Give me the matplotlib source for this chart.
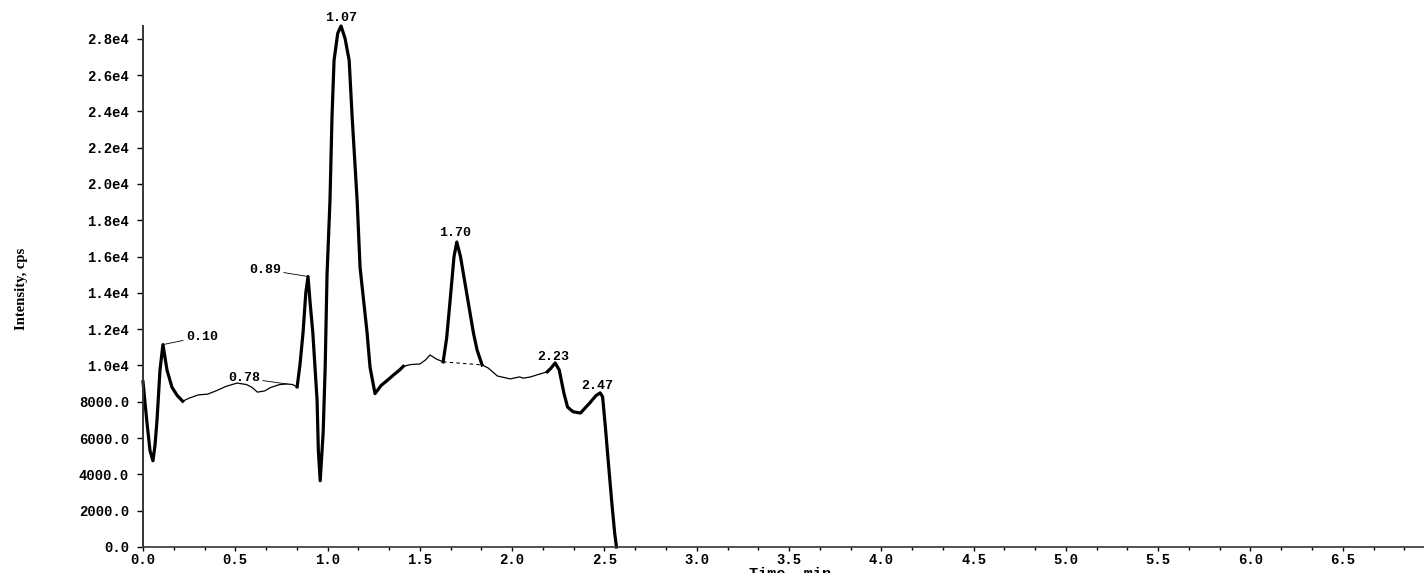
import numpy as np
import matplotlib
matplotlib.use("Agg")
import matplotlib.pyplot as plt
from matplotlib.ticker import AutoMinorLocator

# chromatogram trace (time in min, intensity in cps)
times = [0.000, 0.020, 0.038, 0.054, 0.065, 0.076, 0.092, 0.108, 0.130, 0.157, 0.185, 0.215,
         0.25, 0.30, 0.35, 0.40, 0.45, 0.51, 0.56, 0.59, 0.62, 0.66, 0.69, 0.74, 0.78, 0.81,
         0.835, 0.85, 0.867, 0.882, 0.894, 0.905, 0.92, 0.943, 0.95, 0.96,
         0.976, 0.987, 0.997, 1.013, 1.024, 1.035, 1.055, 1.073, 1.095, 1.117, 1.133, 1.16,
         1.176, 1.214, 1.23, 1.257,
         1.29, 1.32, 1.36, 1.39, 1.41, 1.45, 1.50, 1.53, 1.555, 1.59, 1.626,
         1.645, 1.664, 1.685, 1.70, 1.72, 1.76, 1.79, 1.81, 1.837,
         1.87, 1.92, 1.99, 2.04, 2.06, 2.10, 2.14, 2.17, 2.19,
         2.21, 2.233, 2.255, 2.28, 2.30, 2.33, 2.37, 2.42, 2.455, 2.477, 2.49, 2.505,
         2.52, 2.54, 2.555, 2.565]
intensity = [9100, 7000, 5300, 4750, 5600, 7000, 9750, 11150, 9750, 8800, 8350, 8030,
             8200, 8380, 8420, 8620, 8850, 9030, 8950, 8800, 8530, 8600, 8780, 8950, 8980, 8950,
             8820, 10000, 11800, 14000, 14900, 13500, 11800, 8100, 5300, 3650,
             6300, 9900, 15000, 19100, 23700, 26800, 28300, 28700, 28000, 26800, 23700, 19100,
             15400, 11800, 9900, 8450,
             8900, 9150, 9500, 9750, 9950, 10050, 10080, 10300, 10580, 10350, 10200,
             11500, 13600, 16000, 16800, 16000, 13600, 11800, 10850, 10030,
             9860, 9420, 9260, 9370, 9300, 9370, 9500, 9590, 9650,
             9850, 10140, 9750, 8490, 7710, 7450, 7380, 7930, 8350, 8490, 8270, 6610,
             4790, 2420, 800, 0]

# integrated peaks (drawn bold) and the drawn baseline under 1.70
bold_ranges = [(0.0, 0.215), (0.835, 1.41), (1.626, 1.837), (2.19, 2.565)]
baseline_range = (1.626, 1.837)

peak_times = [0.108, 0.78, 0.894, 1.073, 1.70, 2.233, 2.477]
peak_labels = ["0.10", "0.78", "0.89", "1.07", "1.70", "2.23", "2.47"]
# label offsets in pixels (dx, dy) and whether a leader line is drawn
peak_offsets = [(39, 8), (-43, 6), (-43, 7), (0, 8), (-2, 9), (-2, 6), (-3, 7)]
peak_leaders = [True, True, True, False, False, False, False]

ytick_values = list(range(0, 28001, 2000))
ytick_labels = ["0.0", "2000.0", "4000.0", "6000.0", "8000.0", "1.0e4", "1.2e4", "1.4e4",
                "1.6e4", "1.8e4", "2.0e4", "2.2e4", "2.4e4", "2.6e4", "2.8e4"]
xtick_values = [0.0, 0.5, 1.0, 1.5, 2.0, 2.5, 3.0, 3.5, 4.0, 4.5, 5.0, 5.5, 6.0, 6.5]
xtick_labels = ["%.1f" % v for v in xtick_values]

mono = "Liberation Mono"

fig = plt.figure(figsize=(14.24, 5.73), dpi=100)
ax = fig.add_axes([143 / 1424, 26 / 573, 1281 / 1424, 521 / 573])

t = np.array(times)
y = np.array(intensity)

# thin trace everywhere, bold on the integrated peaks
ax.plot(t, y, color="black", lw=0.9, clip_on=False)
for a, b in bold_ranges:
    m = (t >= a) & (t <= b)
    ax.plot(t[m], y[m], color="black", lw=2.3, clip_on=False, solid_joinstyle="round")

bx = np.array(baseline_range)
ax.plot(bx, np.interp(bx, t, y), color="black", lw=0.8, ls=(0, (3, 3)))

for pt, lab, (dx, dy), lead in zip(peak_times, peak_labels, peak_offsets, peak_leaders):
    py = np.interp(pt, t, y)
    ax.annotate(lab, xy=(pt, py), xytext=(dx * 0.72, dy * 0.72), textcoords="offset points",
                ha="center", va="center", fontsize=9.5, family=mono, fontweight="bold",
                arrowprops=dict(arrowstyle="-", lw=0.6, color="black",
                                shrinkA=0, shrinkB=0) if lead else None)

ax.set_xlim(0, 6.94)
ax.set_ylim(0, 28700)
ax.set_xticks(xtick_values)
ax.set_xticklabels(xtick_labels, family=mono, fontweight="bold", fontsize=10)
ax.set_yticks(ytick_values)
ax.set_yticklabels(ytick_labels, family=mono, fontweight="bold", fontsize=10)
ax.xaxis.set_minor_locator(AutoMinorLocator(3))
ax.tick_params(axis="x", which="major", direction="out", length=3, width=1, pad=1.0)
ax.tick_params(axis="x", which="minor", direction="out", length=2, width=1)
ax.tick_params(axis="y", which="major", direction="out", length=4, width=1, pad=6)

for s in ["top", "right"]:
    ax.spines[s].set_visible(False)
ax.spines["left"].set_linewidth(1.4)
ax.spines["left"].set_color("#333333")
ax.spines["bottom"].set_linewidth(1.2)
ax.spines["bottom"].set_color("#333333")

ax.set_xlabel("Time, min", family=mono, fontweight="bold", fontsize=11)
ax.xaxis.set_label_coords(0.505, -0.039)
ax.set_ylabel("Intensity, cps", family="Liberation Serif", fontweight="bold", fontsize=10.5)
ax.yaxis.set_label_coords(-0.09, 0.495)

fig.savefig("out.png", dpi=100)
